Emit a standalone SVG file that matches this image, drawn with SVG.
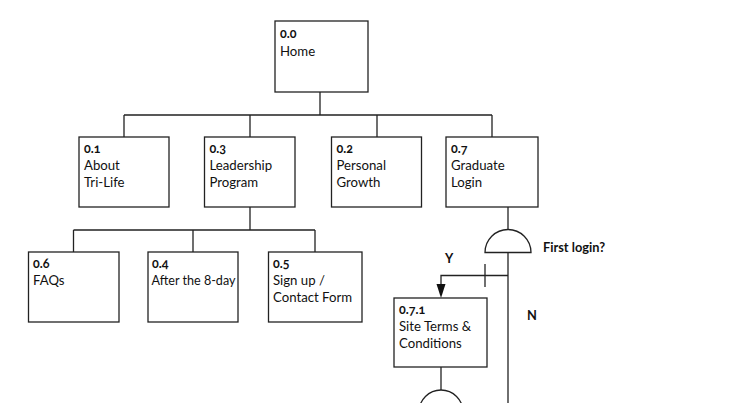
<svg xmlns="http://www.w3.org/2000/svg" width="742" height="403" viewBox="0 0 742 403">
<defs>
<style>
.box{fill:#fff;stroke:#222;stroke-width:1.3}
.ln{fill:none;stroke:#222;stroke-width:1.3}
.num{font-family:Lato,"Open Sans",sans-serif;font-weight:bold;font-size:12.5px;fill:#111;font-feature-settings:"onum" 1;font-variant-numeric:oldstyle-nums}
.lbl{font-family:Lato,"Open Sans",sans-serif;font-size:13.2px;fill:#111}
.bold{font-family:Lato,"Open Sans",sans-serif;font-weight:bold;font-size:12.8px;fill:#111}
</style>
</defs>
<rect width="742" height="403" fill="#fff"/>
<g id="connectors">
<path class="ln" d="M320,92 V115 M124,115 H492 M124,115 V137 M250,115 V137 M377,115 V137 M492,115 V137"/>
<path class="ln" d="M250,207 V230 M73.5,230 H315 M73.5,230 V252 M193,230 V252 M315,230 V252"/>
<path class="ln" d="M508,207 V229.5"/>
<path class="ln" d="M508,252.5 V403"/>
<path class="ln" d="M508,275.5 H441 V284"/>
<path d="M436.5,284 L445.5,284 L441,298 Z" fill="#111"/>
<path class="ln" d="M485,264 V287"/>
<path class="ln" d="M441,367 V390"/>
</g>
<g id="decision-first-login">
<path class="ln" d="M485,252.5 A23,23 0 0 1 531,252.5 Z" fill="#fff"/>
<text class="bold" x="543" y="252">First login?</text>
<text class="bold" x="445" y="263">Y</text>
<text class="bold" x="527" y="320">N</text>
</g>
<g id="decision-2">
<path class="ln" d="M419,412 A22,22 0 0 1 463,412" fill="#fff"/>
</g>
<g id="n00">
<rect class="box" x="275" y="21" width="93" height="71"/>
<text class="num" x="280" y="38">0.0</text>
<text class="lbl" x="280" y="56">Home</text>
</g>
<g id="n01">
<rect class="box" x="79" y="137" width="90" height="70"/>
<text class="num" x="84" y="153">0.1</text>
<text class="lbl" x="84" y="170">About</text>
<text class="lbl" x="84" y="187">Tri-Life</text>
</g>
<g id="n03">
<rect class="box" x="204.5" y="137" width="90.5" height="70"/>
<text class="num" x="209.5" y="153">0.3</text>
<text class="lbl" x="209.5" y="170">Leadership</text>
<text class="lbl" x="209.5" y="187">Program</text>
</g>
<g id="n02">
<rect class="box" x="331.5" y="137" width="90" height="70"/>
<text class="num" x="336.5" y="153">0.2</text>
<text class="lbl" x="336.5" y="170">Personal</text>
<text class="lbl" x="336.5" y="187">Growth</text>
</g>
<g id="n07">
<rect class="box" x="446" y="137" width="92" height="70"/>
<text class="num" x="451" y="153">0.7</text>
<text class="lbl" x="451" y="170">Graduate</text>
<text class="lbl" x="451" y="187">Login</text>
</g>
<g id="n06">
<rect class="box" x="28.5" y="252" width="90.5" height="70"/>
<text class="num" x="33" y="268">0.6</text>
<text class="lbl" x="33" y="285">FAQs</text>
</g>
<g id="n04">
<rect class="box" x="148" y="252" width="90" height="70"/>
<text class="num" x="152" y="268">0.4</text>
<text class="lbl" x="151.5" y="285" textLength="84" lengthAdjust="spacingAndGlyphs">After the 8-day</text>
</g>
<g id="n05">
<rect class="box" x="268.5" y="252" width="93.5" height="70"/>
<text class="num" x="273" y="268">0.5</text>
<text class="lbl" x="273" y="285">Sign up /</text>
<text class="lbl" x="273" y="302">Contact Form</text>
</g>
<g id="n071">
<rect class="box" x="394" y="298" width="93" height="69"/>
<text class="num" x="399" y="314">0.7.1</text>
<text class="lbl" x="399" y="331">Site Terms &amp;</text>
<text class="lbl" x="399" y="348">Conditions</text>
</g>
</svg>
